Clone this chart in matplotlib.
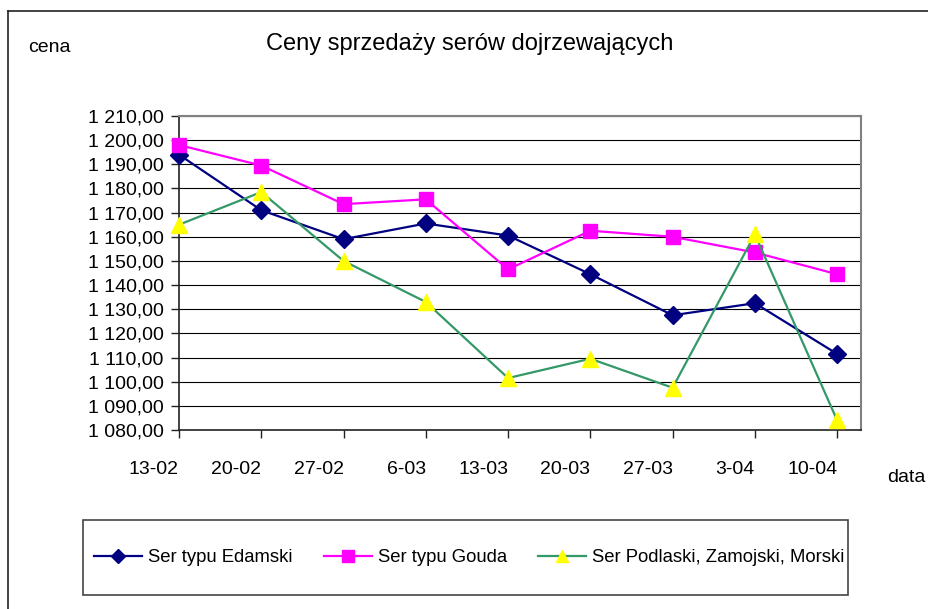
import matplotlib.pyplot as plt
from matplotlib.lines import Line2D
from matplotlib.patches import Rectangle
from matplotlib.ticker import FuncFormatter
import matplotlib.transforms as mtransforms

plt.rcParams['font.family'] = ['Liberation Sans', 'DejaVu Sans']

# Data
dates = ["13-02", "20-02", "27-02", "6-03", "13-03", "20-03", "27-03", "3-04", "10-04"]
edamski = [1194.0, 1171.0, 1159.0, 1165.5, 1160.5, 1144.5, 1127.5, 1132.5, 1111.5]
gouda = [1198.0, 1189.5, 1173.5, 1175.5, 1146.5, 1162.5, 1160.0, 1153.5, 1144.5]
podlaski = [1165.0, 1178.5, 1150.0, 1133.0, 1101.5, 1109.5, 1097.5, 1161.0, 1084.0]

W, H = 929, 609
fig = plt.figure(figsize=(W / 100, H / 100), dpi=100)

# outer chart frame (left and top edges visible)
fig.add_artist(Line2D([8 / W, 8 / W], [0, 1 - 11 / H], transform=fig.transFigure, color="#222222", lw=1.2))
fig.add_artist(Line2D([8 / W, 1], [1 - 11 / H, 1 - 11 / H], transform=fig.transFigure, color="#222222", lw=1.2))

ax = fig.add_axes([179 / W, 1 - 430 / H, (861 - 179) / W, (430 - 116) / H])
x = list(range(len(dates)))

ax.plot(x, edamski, color="#000080", lw=1.6, marker="D", ms=9, clip_on=False,
        markerfacecolor="#000080", markeredgecolor="#000080", label="Ser typu Edamski", zorder=3)
ax.plot(x, gouda, color="#FF00FF", lw=1.6, marker="s", ms=10, clip_on=False,
        markerfacecolor="#FF00FF", markeredgecolor="#FF00FF", label="Ser typu Gouda", zorder=3)
ax.plot(x, podlaski, color="#339966", lw=1.6, marker="^", ms=11, clip_on=False,
        markerfacecolor="#FFFF00", markeredgecolor="#FFFF00", label="Ser Podlaski, Zamojski, Morski", zorder=3)

ax.set_xlim(0, 8.29)
ax.set_ylim(1080, 1210)
ax.set_yticks(range(1080, 1211, 10))
ax.yaxis.set_major_formatter(FuncFormatter(lambda v, p: f"{v:,.2f}".replace(",", " ").replace(".", ",")))
ax.grid(axis="y", color="black", lw=0.8)
ax.set_axisbelow(True)

ax.set_xticks(x)
ax.set_xticklabels(dates, ha="right")
offset = mtransforms.ScaledTranslation(-3 / 100, 0, fig.dpi_scale_trans)
for lab in ax.get_xticklabels():
    lab.set_transform(lab.get_transform() + offset)

ax.tick_params(axis="both", direction="out", length=6, width=1, labelsize=14, color="#222222")
ax.tick_params(axis="x", pad=16)
ax.tick_params(axis="y", pad=5)

for side in ["left", "bottom"]:
    ax.spines[side].set_color("#222222")
    ax.spines[side].set_linewidth(1.2)
for side in ["top", "right"]:
    ax.spines[side].set_color("#808080")
    ax.spines[side].set_linewidth(1.5)

fig.text(470 / W, 1 - 44 / H, "Ceny sprzedaży serów dojrzewających", ha="center", va="center", fontsize=17)
fig.text(28 / W, 1 - 48 / H, "cena", ha="left", va="center", fontsize=14)
fig.text(887 / W, 1 - 478 / H, "data", ha="left", va="center", fontsize=14)

# legend box
lx0, ly0, lx1, ly1 = 83, 520, 848, 595
fig.add_artist(Rectangle((lx0 / W, 1 - ly1 / H), (lx1 - lx0) / W, (ly1 - ly0) / H,
                         transform=fig.transFigure, fill=False, edgecolor="#444444", lw=1.2))
handles = [
    Line2D([], [], color="#000080", lw=1.6, marker="D", ms=7, markerfacecolor="#000080", markeredgecolor="#000080"),
    Line2D([], [], color="#FF00FF", lw=1.6, marker="s", ms=8, markerfacecolor="#FF00FF", markeredgecolor="#FF00FF"),
    Line2D([], [], color="#339966", lw=1.6, marker="^", ms=9, markerfacecolor="#FFFF00", markeredgecolor="#FFFF00"),
]
labels = ["Ser typu Edamski", "Ser typu Gouda", "Ser Podlaski, Zamojski, Morski"]
fig.legend(handles, labels, loc="center", bbox_to_anchor=((lx0 + lx1) / 2 / W + 0.004, 1 - (ly0 + ly1) / 2 / H),
           ncol=3, frameon=False, fontsize=13.3, handlelength=2.6, handletextpad=0.3, columnspacing=1.7)

fig.savefig("out.png", dpi=100)
